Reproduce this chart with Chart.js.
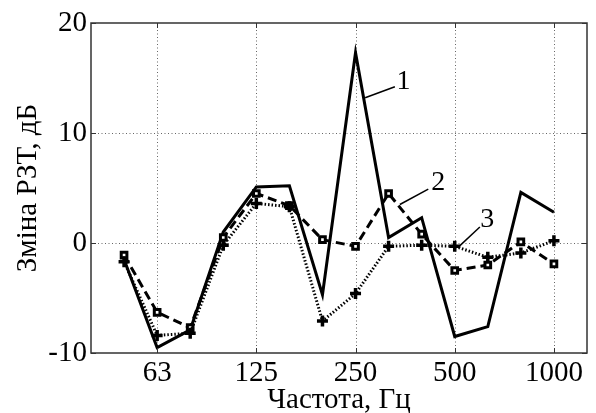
<!DOCTYPE html>
<html>
<head>
<meta charset="utf-8">
<script src="https://cdn.jsdelivr.net/npm/chart.js@4/dist/chart.umd.min.js"></script>
<style>
  body { margin: 0; background: #fff; }
  #wrap { width: 596px; height: 413px; }
</style>
</head>
<body>
<div id="wrap"><canvas id="myChart" width="596" height="413"></canvas></div>
<script>
// third-octave bands, Hz
const bands = ["50", "63", "80", "100", "125", "160", "200", "250", "315", "400", "500", "630", "800", "1000"];
const tickBands = ["63", "125", "250", "500", "1000"];
const yTicks = [-10, 0, 10, 20];

// change of sound insulation, dB
const curve1 = [-1.5, -9.5, -7.9, 1.0, 5.1, 5.2, -4.7, 17.3, 0.5, 2.3, -8.5, -7.6, 4.6, 2.8];
const curve2 = [-1.1, -6.3, -7.7, 0.5, 4.5, 3.4, 0.3, -0.3, 4.5, 0.8, -2.5, -2.0, 0.1, -1.9];
const curve3 = [-1.7, -8.4, -8.2, -0.2, 3.6, 3.3, -7.1, -4.6, -0.3, -0.2, -0.3, -1.3, -0.9, 0.2];

// curve numbers with leader lines: [x from, y from, x to, y to, text x, text y, text] in axis units
const callouts = [
  [7.29, 13.2, 8.19, 14.2, 8.45, 14.7, "1"],
  [8.34, 3.5, 9.2, 4.9, 9.5, 5.5, "2"],
  [10.1, -0.4, 10.76, 1.45, 10.98, 2.1, "3"]
];

const serif = "'Liberation Serif', 'DejaVu Serif', serif";
const fontSize = 29;

const toPoints = (arr) => arr.map((v, i) => ({ x: i, y: v }));

// dotted grid, frame with inward ticks, curve numbers
const framePlugin = {
  id: "frame",
  beforeDatasetsDraw(chart) {
    const { ctx, chartArea: a, scales } = chart;
    ctx.save();
    ctx.strokeStyle = "#666";
    ctx.lineWidth = 1;
    ctx.setLineDash([1, 2.5]);
    scales.x.ticks.forEach((t) => {
      const x = Math.round(scales.x.getPixelForValue(t.value)) + 0.5;
      ctx.beginPath();
      ctx.moveTo(x, a.top);
      ctx.lineTo(x, a.bottom);
      ctx.stroke();
    });
    scales.y.ticks.forEach((t) => {
      if (t.value <= scales.y.min || t.value >= scales.y.max) return;
      const y = Math.round(scales.y.getPixelForValue(t.value)) + 0.5;
      ctx.beginPath();
      ctx.moveTo(a.left, y);
      ctx.lineTo(a.right, y);
      ctx.stroke();
    });
    ctx.restore();
  },
  afterDatasetsDraw(chart) {
    const { ctx, chartArea: a, scales } = chart;
    ctx.save();
    ctx.strokeStyle = "#333";
    ctx.lineWidth = 1.5;
    ctx.strokeRect(a.left, a.top, a.right - a.left, a.bottom - a.top);
    ctx.lineWidth = 1;
    const tl = 5;
    scales.x.ticks.forEach((t) => {
      const x = Math.round(scales.x.getPixelForValue(t.value)) + 0.5;
      ctx.beginPath();
      ctx.moveTo(x, a.bottom); ctx.lineTo(x, a.bottom - tl);
      ctx.moveTo(x, a.top); ctx.lineTo(x, a.top + tl);
      ctx.stroke();
    });
    scales.y.ticks.forEach((t) => {
      const y = Math.round(scales.y.getPixelForValue(t.value)) + 0.5;
      ctx.beginPath();
      ctx.moveTo(a.left, y); ctx.lineTo(a.left + tl, y);
      ctx.moveTo(a.right, y); ctx.lineTo(a.right - tl, y);
      ctx.stroke();
    });

    ctx.strokeStyle = "#000";
    ctx.fillStyle = "#000";
    ctx.lineWidth = 1.5;
    ctx.font = "28px " + serif;
    ctx.textAlign = "center";
    ctx.textBaseline = "middle";
    callouts.forEach(([x0, y0, x1, y1, tx, ty, label]) => {
      ctx.beginPath();
      ctx.moveTo(scales.x.getPixelForValue(x0), scales.y.getPixelForValue(y0));
      ctx.lineTo(scales.x.getPixelForValue(x1), scales.y.getPixelForValue(y1));
      ctx.stroke();
      ctx.fillText(label, scales.x.getPixelForValue(tx), scales.y.getPixelForValue(ty));
    });
    ctx.restore();
  }
};

const ctx = document.getElementById("myChart");
const myChart = new Chart(ctx, {
  type: "line",
  data: {
    datasets: [
      {
        label: "3",
        data: toPoints(curve3),
        borderColor: "#000",
        borderWidth: 3,
        borderDash: [1.5, 2],
        pointStyle: "cross",
        pointRadius: 5.5,
        pointBorderWidth: 3.5,
        pointBorderColor: "#000",
        tension: 0
      },
      {
        label: "2",
        data: toPoints(curve2),
        borderColor: "#000",
        borderWidth: 3,
        borderDash: [9, 5],
        pointStyle: "rect",
        pointRadius: 4,
        pointBorderWidth: 3,
        pointBorderColor: "#000",
        pointBackgroundColor: "#fff",
        tension: 0
      },
      {
        label: "1",
        data: toPoints(curve1),
        borderColor: "#000",
        borderWidth: 3,
        pointRadius: 0,
        tension: 0
      }
    ]
  },
  options: {
    responsive: false,
    animation: false,
    layout: { padding: { top: 23, right: 3, left: 0, bottom: 0 } },
    plugins: { legend: { display: false }, tooltip: { enabled: false } },
    scales: {
      x: {
        type: "linear",
        min: -1,
        max: bands.length,
        afterBuildTicks: (scale) => {
          scale.ticks = tickBands.map((b) => ({ value: bands.indexOf(b) }));
        },
        afterFit: (scale) => { scale.height = 60; },
        ticks: {
          autoSkip: false,
          maxRotation: 0,
          padding: 3,
          color: "#000",
          font: { family: serif, size: fontSize, lineHeight: 1.2 },
          callback: (value) => bands[value]
        },
        grid: { display: false, drawTicks: false },
        border: { display: false },
        title: {
          display: true,
          text: "Частота, Гц",
          color: "#000",
          font: { family: serif, size: fontSize, lineHeight: 1.2 },
          padding: { top: 0, bottom: -5 }
        }
      },
      y: {
        min: -10,
        max: 20,
        afterBuildTicks: (scale) => {
          scale.ticks = yTicks.map((v) => ({ value: v }));
        },
        afterFit: (scale) => { scale.width = 91; },
        ticks: {
          padding: 4,
          color: "#000",
          font: { family: serif, size: fontSize, lineHeight: 1.2 }
        },
        grid: { display: false, drawTicks: false },
        border: { display: false },
        title: {
          display: true,
          text: "Зміна РЗТ, дБ",
          color: "#000",
          font: { family: serif, size: fontSize, lineHeight: 1.2 },
          padding: { top: 11, bottom: 0 }
        }
      }
    }
  },
  plugins: [framePlugin]
});
</script>
</body>
</html>
